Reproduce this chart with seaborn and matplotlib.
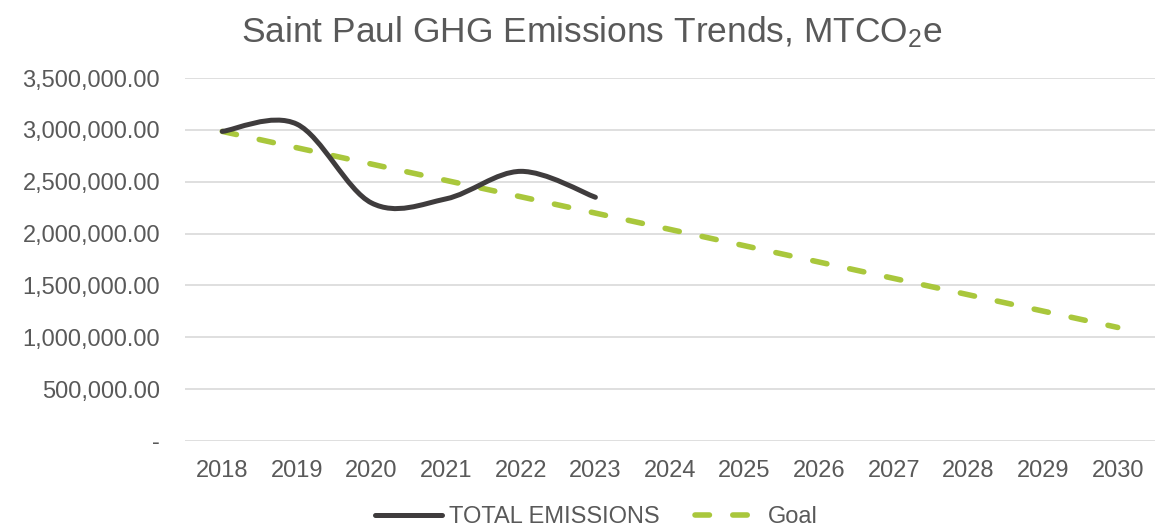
import numpy as np
import pandas as pd
import matplotlib
matplotlib.use("Agg")
import matplotlib.pyplot as plt
from matplotlib.path import Path
from matplotlib.patches import PathPatch
from matplotlib.lines import Line2D
from matplotlib.ticker import FuncFormatter
import seaborn as sns

years = [2018, 2019, 2020, 2021, 2022, 2023, 2024, 2025, 2026, 2027, 2028, 2029, 2030]
emission_years = [2018, 2019, 2020, 2021, 2022, 2023]
total_emissions = [2985000, 3055000, 2295000, 2335000, 2600000, 2350000]
goal = [2985000, 2827500, 2670000, 2512500, 2355000, 2197500, 2040000,
        1882500, 1725000, 1567500, 1410000, 1252500, 1095000]

GREY_TEXT = "#595959"
DARK = "#3F3C3D"
GREEN = "#A9C73C"

sns.set_style("white")
plt.rcParams["font.family"] = ["Liberation Sans", "DejaVu Sans"]
plt.rcParams["mathtext.default"] = "regular"

fig = plt.figure(figsize=(11.63, 5.31), dpi=100)
ax = fig.add_axes([185 / 1163, 1 - 441 / 531, (1155 - 185) / 1163, (441 - 78) / 531])

goal_df = pd.DataFrame({"year": years, "goal": goal})
sns.lineplot(data=goal_df, x="year", y="goal", ax=ax, color=GREEN, linewidth=4,
             dashes=False, zorder=3)
goal_line = ax.lines[-1]
goal_line.set_dashes((2.6, 4.2))
goal_line.set_dash_capstyle("round")

# Excel-style smoothed line: cubic bezier through the data points
x = np.array(emission_years, dtype=float)
y = np.array(total_emissions, dtype=float)
verts = [(x[0], y[0])]
codes = [Path.MOVETO]
n = len(x)
for i in range(n - 1):
    x0, y0 = (x[i - 1], y[i - 1]) if i > 0 else (x[i], y[i])
    x3, y3 = (x[i + 2], y[i + 2]) if i + 2 < n else (x[i + 1], y[i + 1])
    c1 = (x[i] + (x[i + 1] - x0) / 6, y[i] + (y[i + 1] - y0) / 6)
    c2 = (x[i + 1] - (x3 - x[i]) / 6, y[i + 1] - (y3 - y[i]) / 6)
    verts += [c1, c2, (x[i + 1], y[i + 1])]
    codes += [Path.CURVE4] * 3
ax.add_patch(PathPatch(Path(verts, codes), facecolor="none", edgecolor=DARK,
                       linewidth=3.6, capstyle="round", zorder=4))

ax.set_xlim(2017.5, 2030.5)
ax.set_ylim(0, 3500000)
ax.set_xticks(years)
ax.set_yticks(np.arange(0, 3500001, 500000))
ax.yaxis.set_major_formatter(FuncFormatter(lambda v, p: "-" if v == 0 else f"{v:,.2f}"))
ax.tick_params(axis="both", length=0, labelsize=17, labelcolor=GREY_TEXT)
ax.tick_params(axis="x", pad=14)
ax.tick_params(axis="y", pad=18)
ax.grid(axis="y", color="#D9D9D9", linewidth=1.2)
ax.set_axisbelow(True)
for s in ax.spines.values():
    s.set_visible(False)
ax.set_xlabel("")
ax.set_ylabel("")

fig.text(0.509, 0.94, "Saint Paul GHG Emissions Trends, MTCO$_2$e", ha="center", va="center",
         fontsize=25.5, color=GREY_TEXT)

handles = [Line2D([], [], color=DARK, linewidth=3.6, solid_capstyle="round"),
           Line2D([], [], color=GREEN, linewidth=4, dashes=(2.6, 4.2), dash_capstyle="round")]
fig.legend(handles, ["TOTAL EMISSIONS", "Goal"], loc="center", bbox_to_anchor=(0.513, 0.026),
           ncol=2, frameon=False, fontsize=17, labelcolor=GREY_TEXT, handlelength=2.8,
           handletextpad=0.3, columnspacing=1.5)

fig.savefig("out.png", dpi=100)
